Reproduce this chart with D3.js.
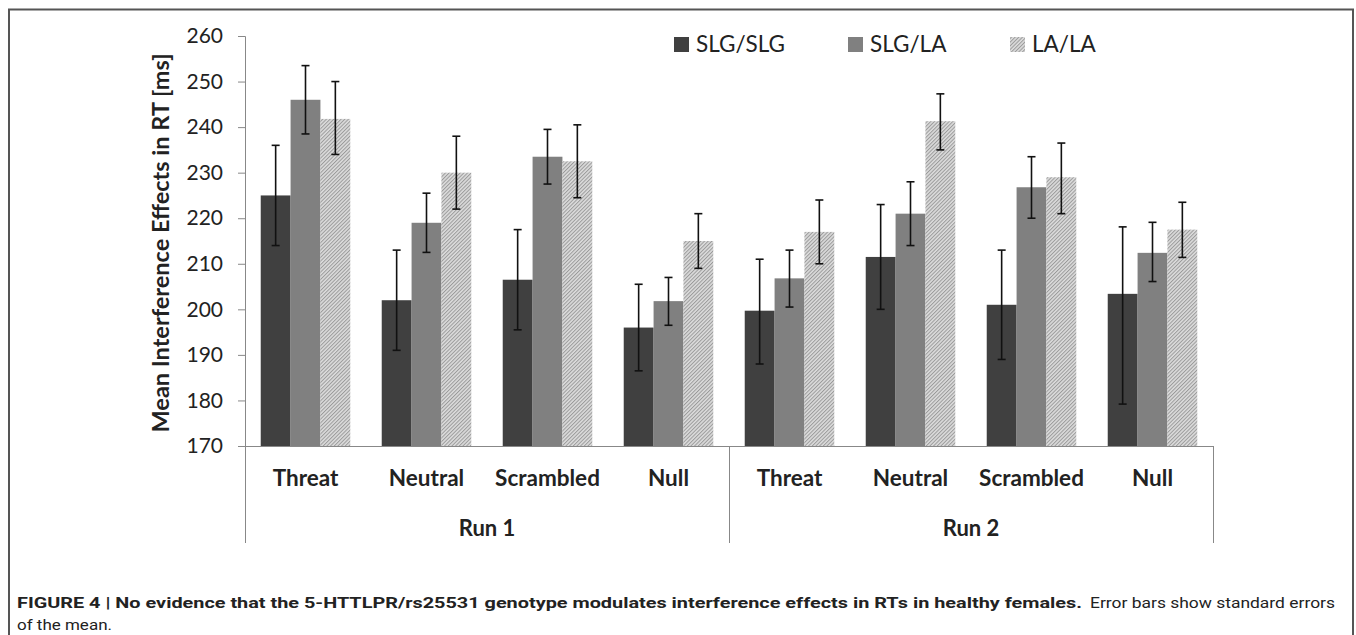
<!DOCTYPE html>
<html>
<head>
<meta charset="utf-8">
<script src="https://cdn.jsdelivr.net/npm/d3@7"></script>
<style>
  body { margin: 0; background: #fff; }
  svg text { font-family: Lato, "Open Sans", sans-serif; fill: #222; }
  .caption text { font-family: Roboto, "Liberation Sans", sans-serif; fill: #222; }
</style>
</head>
<body>
<svg id="chart" width="1356" height="635"></svg>
<script>
// data
var runs = ["Run 1", "Run 2"];
var conditions = ["Threat", "Neutral", "Scrambled", "Null"];
var genotypes = ["SLG/SLG", "SLG/LA", "LA/LA"];
var yTicks = [170, 180, 190, 200, 210, 220, 230, 240, 250, 260];

// means per genotype, ordered Run1 (Threat, Neutral, Scrambled, Null), Run2 (...)
var meanSLGSLG = [225.0, 202.0, 206.5, 196.0, 199.7, 211.5, 201.0, 203.4];
var meanSLGLA  = [246.0, 219.0, 233.5, 201.8, 206.8, 221.0, 226.8, 212.4];
var meanLALA   = [241.8, 230.0, 232.5, 215.0, 217.0, 241.3, 229.0, 217.5];

// error bar ends (mean +/- SE as drawn)
var hiSLGSLG = [236.0, 213.0, 217.5, 205.5, 211.0, 223.0, 213.0, 218.1];
var loSLGSLG = [214.0, 191.0, 195.5, 186.5, 188.0, 200.0, 189.0, 179.2];
var hiSLGLA  = [253.5, 225.5, 239.5, 207.0, 213.0, 228.0, 233.5, 219.1];
var loSLGLA  = [238.5, 212.5, 227.5, 196.5, 200.5, 214.0, 220.0, 206.1];
var hiLALA   = [250.0, 238.0, 240.5, 221.0, 224.0, 247.3, 236.5, 223.5];
var loLALA   = [234.0, 222.0, 224.5, 209.0, 210.0, 235.0, 221.0, 211.4];

var means = [meanSLGSLG, meanSLGLA, meanLALA];
var errHi = [hiSLGSLG, hiSLGLA, hiLALA];
var errLo = [loSLGSLG, loSLGLA, loLALA];

(function() {
    var svg = d3.select("#chart");
    var defs = svg.append("defs");

    // fine diagonal hatch for LA/LA
    var pat = defs.append("pattern")
        .attr("id", "hatch")
        .attr("patternUnits", "userSpaceOnUse")
        .attr("width", 2.6).attr("height", 2.6)
        .attr("patternTransform", "rotate(45)");
    pat.append("rect").attr("width", 2.6).attr("height", 2.6).attr("fill", "#dcdcdc");
    pat.append("rect").attr("width", 1).attr("height", 2.6).attr("fill", "#9a9a9a");

    var fills = ["#404040", "#808080", "url(#hatch)"];

    // outer frame
    svg.append("path")
        .attr("d", "M9,640 V9.5 H1353 V640")
        .attr("fill", "none")
        .attr("stroke", "#555")
        .attr("stroke-width", 2);

    var plotLeft = 245, plotRight = 1213, plotTop = 36, plotBottom = 446;

    var y = d3.scaleLinear().domain([170, 260]).range([plotBottom, plotTop]);

    // one band per run/condition
    var cells = [];
    runs.forEach(function(r) {
        conditions.forEach(function(c) { cells.push(r + "|" + c); });
    });
    var x0 = d3.scaleBand().domain(cells).range([plotLeft, plotRight]).paddingInner(0.26).paddingOuter(0.13);
    var x1 = d3.scaleBand().domain(genotypes).range([0, x0.bandwidth()]);
    var xRun = d3.scaleBand().domain(runs).range([plotLeft, plotRight]);

    // y axis
    var yAxis = svg.append("g")
        .attr("transform", "translate(" + plotLeft + ",0)")
        .call(d3.axisLeft(y).tickValues(yTicks).tickSize(7).tickPadding(15));
    yAxis.select(".domain").attr("stroke", "#888");
    yAxis.selectAll(".tick line").attr("stroke", "#888");
    yAxis.selectAll(".tick text")
        .attr("font-size", 21)
        .attr("fill", "#222")
        .attr("font-family", "Lato, sans-serif");

    svg.append("text")
        .attr("transform", "translate(169," + ((48 + 438) / 2) + ") rotate(-90)")
        .attr("text-anchor", "middle")
        .attr("font-size", 23.5)
        .attr("font-weight", "bold")
        .text("Mean Interference Effects in RT [ms]");

    // bars
    var bars = svg.append("g");
    genotypes.forEach(function(g, gi) {
        bars.selectAll(null)
            .data(cells)
            .enter().append("rect")
            .attr("x", function(d) { return x0(d) + x1(g); })
            .attr("y", function(d, i) { return y(means[gi][i]); })
            .attr("width", x1.bandwidth())
            .attr("height", function(d, i) { return y(170) - y(means[gi][i]); })
            .attr("fill", fills[gi]);
    });

    // error bars
    var errs = svg.append("g").attr("stroke", "#111").attr("stroke-width", 1.6);
    genotypes.forEach(function(g, gi) {
        cells.forEach(function(d, i) {
            var cx = x0(d) + x1(g) + x1.bandwidth() / 2;
            var hi = y(errHi[gi][i]);
            var lo = y(errLo[gi][i]);
            errs.append("line").attr("x1", cx).attr("x2", cx).attr("y1", hi).attr("y2", lo);
            errs.append("line").attr("x1", cx - 4).attr("x2", cx + 4).attr("y1", hi).attr("y2", hi);
            errs.append("line").attr("x1", cx - 4).attr("x2", cx + 4).attr("y1", lo).attr("y2", lo);
        });
    });

    // x axis: baseline plus run separators
    var axisColor = "#888";
    svg.append("line")
        .attr("x1", plotLeft).attr("x2", plotRight)
        .attr("y1", plotBottom + 0.5).attr("y2", plotBottom + 0.5)
        .attr("stroke", axisColor);
    var seps = [plotLeft].concat(runs.map(function(r) { return xRun(r) + xRun.bandwidth(); }));
    svg.selectAll(null).data(seps).enter().append("line")
        .attr("x1", function(d) { return Math.round(d) + 0.5; })
        .attr("x2", function(d) { return Math.round(d) + 0.5; })
        .attr("y1", plotBottom).attr("y2", 543)
        .attr("stroke", axisColor);

    // condition labels
    svg.selectAll(null).data(cells).enter().append("text")
        .attr("x", function(d) { return x0(d) + x0.bandwidth() / 2; })
        .attr("y", 486)
        .attr("text-anchor", "middle")
        .attr("font-size", 22.5)
        .attr("font-weight", "bold")
        .text(function(d) { return d.split("|")[1]; });

    // run labels
    svg.selectAll(null).data(runs).enter().append("text")
        .attr("x", function(d) { return xRun(d) + xRun.bandwidth() / 2; })
        .attr("y", 536)
        .attr("text-anchor", "middle")
        .attr("font-size", 22)
        .attr("font-weight", "bold")
        .text(function(d) { return d; });

    // legend
    var legendX = [674, 848, 1010];
    var legend = svg.append("g");
    genotypes.forEach(function(g, gi) {
        legend.append("rect")
            .attr("x", legendX[gi]).attr("y", 37)
            .attr("width", 15).attr("height", 15)
            .attr("fill", fills[gi]);
        legend.append("text")
            .attr("x", legendX[gi] + 22).attr("y", 52)
            .attr("font-size", 22.5)
            .text(g);
    });

    // caption
    var cap = svg.append("g").attr("class", "caption");
    cap.append("text").attr("x", 17).attr("y", 608).attr("font-size", 14.5)
        .attr("font-weight", "bold")
        .attr("textLength", 1065).attr("lengthAdjust", "spacingAndGlyphs")
        .text("FIGURE 4 | No evidence that the 5-HTTLPR/rs25531 genotype modulates interference effects in RTs in healthy females.");
    cap.append("text").attr("x", 1090).attr("y", 608).attr("font-size", 14.5)
        .attr("textLength", 245).attr("lengthAdjust", "spacingAndGlyphs")
        .text("Error bars show standard errors");
    cap.append("text").attr("x", 17).attr("y", 630).attr("font-size", 14.5)
        .attr("textLength", 95).attr("lengthAdjust", "spacingAndGlyphs")
        .text("of the mean.");
})();
</script>
</body>
</html>
